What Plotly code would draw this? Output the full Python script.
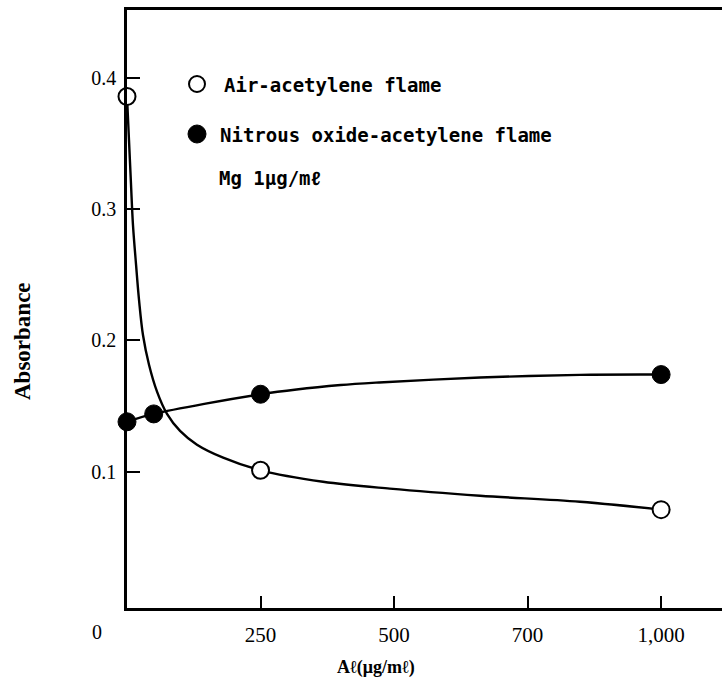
import plotly.graph_objects as go

# ---- data ----
air_x = [0, 250, 1000]
air_y = [0.386, 0.101, 0.071]
n2o_x = [0, 50, 250, 1000]
n2o_y = [0.138, 0.144, 0.159, 0.174]

# smooth curves as drawn in the figure
air_curve_x = [0, 3.7, 7.5, 11.2, 16.9, 22.5, 30, 41.2, 56.2, 74.9, 99.3, 131, 180, 250, 367, 492, 661, 848, 1000]
air_curve_y = [0.386, 0.353, 0.319, 0.288, 0.258, 0.231, 0.204, 0.1815, 0.161, 0.144, 0.131, 0.1205, 0.1106, 0.101, 0.0923, 0.087, 0.0816, 0.077, 0.071]
n2o_curve_x = [0, 50, 250, 400, 472, 661, 848, 1000]
n2o_curve_y = [0.138, 0.144, 0.159, 0.166, 0.168, 0.1718, 0.1738, 0.174]

x_tickvals = [250, 500, 750, 1000]
x_ticktext = ["250", "500", "700", "1,000"]
y_tickvals = [0.1, 0.2, 0.3, 0.4]
y_ticktext = ["0.1", "0.2", "0.3", "0.4"]

legend_labels = ["Air-acetylene flame", "Nitrous oxide-acetylene flame", "Mg 1μg/mℓ"]
x_title = "Aℓ(μg/mℓ)"
y_title = "Absorbance"

W, H = 722, 696
L, R, T, B = 127, 0, 10, 88
pw, ph = W - L - R, H - T - B

def px(xp):
    return (xp - L) / pw

def py(yp):
    return (H - B - yp) / ph

fig = go.Figure()
fig.add_trace(go.Scatter(x=air_curve_x, y=air_curve_y, mode="lines",
                         line=dict(color="black", width=2.4, shape="spline", smoothing=1.0),
                         showlegend=False, hoverinfo="skip"))
fig.add_trace(go.Scatter(x=n2o_curve_x, y=n2o_curve_y, mode="lines",
                         line=dict(color="black", width=2.4, shape="spline", smoothing=0.8),
                         showlegend=False, hoverinfo="skip"))
fig.add_trace(go.Scatter(x=air_x, y=air_y, mode="markers", cliponaxis=False,
                         marker=dict(symbol="circle", size=17, color="white",
                                     line=dict(color="black", width=2)),
                         showlegend=False))
fig.add_trace(go.Scatter(x=n2o_x, y=n2o_y, mode="markers", cliponaxis=False,
                         marker=dict(symbol="circle", size=18, color="black",
                                     line=dict(color="black", width=1)),
                         showlegend=False))

mono = dict(family="DejaVu Sans Mono, Liberation Mono, monospace", size=19, color="black", weight="bold")
serif = "Liberation Serif, Times New Roman, serif"

# legend (drawn manually)
fig.add_shape(type="circle", xref="paper", yref="paper", xsizemode="pixel", ysizemode="pixel",
              xanchor=px(197), yanchor=py(84), x0=-8, x1=8, y0=-8, y1=8,
              line=dict(color="black", width=2), fillcolor="white")
fig.add_shape(type="circle", xref="paper", yref="paper", xsizemode="pixel", ysizemode="pixel",
              xanchor=px(197), yanchor=py(134), x0=-9, x1=9, y0=-9, y1=9,
              line=dict(color="black", width=1), fillcolor="black")
for txt, xp, yp in zip(legend_labels, [222, 218, 217], [85, 135, 178]):
    fig.add_annotation(text=txt, xref="paper", yref="paper", x=px(xp), y=py(yp),
                       xanchor="left", yanchor="middle", showarrow=False, font=mono)

# titles
fig.add_annotation(text=y_title, xref="paper", yref="paper", x=px(22), y=py(341),
                   textangle=-90, showarrow=False, xanchor="center", yanchor="middle",
                   font=dict(family=serif, size=23, color="black", weight="bold"))
fig.add_annotation(text=x_title, xref="paper", yref="paper", x=px(376), y=py(667),
                   showarrow=False, xanchor="center", yanchor="middle",
                   font=dict(family=serif, size=18, color="black", weight="bold"))
# origin label
fig.add_annotation(text="0", xref="paper", yref="paper", x=px(97), y=py(632),
                   showarrow=False, xanchor="center", yanchor="middle",
                   font=dict(family=serif, size=20, color="black"))

fig.update_layout(
    width=W, height=H,
    margin=dict(l=L, r=R, t=T, b=B, pad=0),
    paper_bgcolor="white", plot_bgcolor="white",
    showlegend=False,
    xaxis=dict(range=[0, 1114], showgrid=False, zeroline=False,
               showline=True, linecolor="black", linewidth=2.5, mirror=True,
               ticks="inside", ticklen=12, tickwidth=1.5, tickcolor="black",
               tickvals=x_tickvals, ticktext=x_ticktext,
               tickfont=dict(family=serif, size=21, color="black"),
               ticklabelstandoff=6),
    yaxis=dict(range=[-0.004, 0.452], showgrid=False, zeroline=False,
               showline=True, linecolor="black", linewidth=2.5,
               ticks="inside", ticklen=13, tickwidth=2, tickcolor="black",
               tickvals=y_tickvals, ticktext=y_ticktext,
               tickfont=dict(family=serif, size=20, color="black"),
               ticklabelstandoff=4),
)

fig.write_html("out.html")
